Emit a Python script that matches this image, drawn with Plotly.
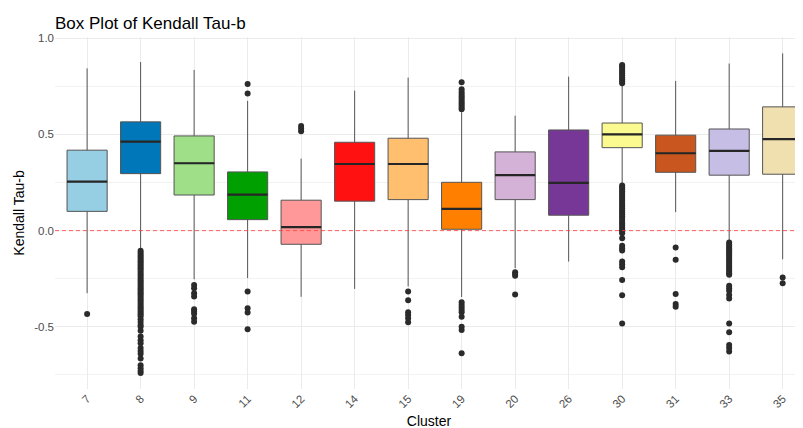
import plotly.graph_objects as go

clusters = ["7", "8", "9", "11", "12", "14", "15", "19", "20", "26", "30", "31", "33", "35"]
q1 =        [0.100, 0.296, 0.185, 0.057, -0.071, 0.153, 0.161, 0.007, 0.161, 0.080, 0.431, 0.303, 0.288, 0.293]
median =    [0.255, 0.462, 0.350, 0.187, 0.018, 0.346, 0.346, 0.113, 0.288, 0.248, 0.500, 0.402, 0.414, 0.475]
q3 =        [0.418, 0.565, 0.492, 0.305, 0.158, 0.459, 0.480, 0.251, 0.409, 0.523, 0.559, 0.496, 0.528, 0.643]
lower =     [-0.325, -0.100, -0.253, -0.247, -0.344, -0.303, -0.290, -0.345, -0.195, -0.161, 0.237, 0.096, -0.052, -0.149]
upper =     [0.843, 0.876, 0.835, 0.674, 0.374, 0.727, 0.795, 0.615, 0.597, 0.800, 0.757, 0.778, 0.868, 0.921]
colors = ["#96CEE4", "#0077B8", "#9EDF88", "#00A000", "#FF9999", "#FF1111", "#FFBF6F",
          "#FF8000", "#D4B1D6", "#773796", "#FAFA90", "#C8561E", "#C7BEE6", "#F0E0B0"]

outliers = {
    "7": [-0.433],
    "8": [-0.105, -0.115, -0.125, -0.135, -0.145, -0.155, -0.165, -0.175, -0.185, -0.195,
          -0.205, -0.215, -0.225, -0.235, -0.245, -0.255, -0.265, -0.275, -0.285, -0.295,
          -0.305, -0.315, -0.325, -0.335, -0.345, -0.355, -0.365, -0.375, -0.385, -0.395,
          -0.405, -0.415, -0.425, -0.435, -0.445, -0.46, -0.475, -0.49, -0.50, -0.52,
          -0.55, -0.57, -0.585, -0.61, -0.625, -0.64, -0.665, -0.70, -0.715, -0.73, -0.74],
    "9": [-0.282, -0.299, -0.325, -0.343, -0.408, -0.42, -0.432, -0.455, -0.473],
    "11": [0.712, 0.762, -0.317, -0.403, -0.426, -0.512],
    "12": [0.516, 0.53, 0.544],
    "15": [-0.317, -0.362, -0.424, -0.438, -0.455, -0.476],
    "19": [0.63, 0.64, 0.65, 0.66, 0.67, 0.68, 0.69, 0.70, 0.71, 0.72, 0.735, 0.771,
           -0.372, -0.386, -0.40, -0.412, -0.424, -0.447, -0.499, -0.516, -0.637],
    "20": [-0.216, -0.225, -0.234, -0.332],
    "30": [0.766, 0.776, 0.786, 0.796, 0.806, 0.816, 0.826, 0.836, 0.846, 0.855, 0.861,
           0.235, 0.225, 0.215, 0.205, 0.195, 0.185, 0.175, 0.165, 0.155, 0.145, 0.135,
           0.125, 0.115, 0.105, 0.095, 0.085, 0.075, 0.065, 0.055, 0.045, 0.035, 0.025,
           0.015, 0.005, -0.005, -0.014, -0.04, -0.079, -0.092, -0.104, -0.161, -0.175,
           -0.19, -0.256, -0.336, -0.483],
    "31": [-0.088, -0.152, -0.329, -0.381, -0.395],
    "33": [-0.062, -0.072, -0.082, -0.092, -0.102, -0.112, -0.122, -0.132, -0.142, -0.152,
           -0.162, -0.172, -0.182, -0.192, -0.202, -0.212, -0.222, -0.23, -0.287, -0.30,
           -0.312, -0.334, -0.353, -0.483, -0.528, -0.594, -0.61, -0.628],
    "35": [-0.244, -0.273],
}

y_ticks = [-0.5, 0.0, 0.5, 1.0]
y_tick_labels = ["-0.5", "0.0", "0.5", "1.0"]

fig = go.Figure()
for i, c in enumerate(clusters):
    fig.add_trace(go.Box(
        x=[c], q1=[q1[i]], median=[median[i]], q3=[q3[i]],
        lowerfence=[lower[i]], upperfence=[upper[i]],
        fillcolor=colors[i], line=dict(color="#555555", width=1),
        whiskerwidth=0, width=0.75, boxpoints=False, showlegend=False,
    ))
    # thicker dark median line
    fig.add_trace(go.Box(
        x=[c], q1=[median[i]], median=[median[i]], q3=[median[i]],
        lowerfence=[median[i]], upperfence=[median[i]],
        fillcolor="rgba(0,0,0,0)", line=dict(color="#262626", width=2.2),
        whiskerwidth=0, width=0.75, boxpoints=False, showlegend=False,
    ))

ox, oy = [], []
for c in clusters:
    for v in outliers.get(c, []):
        ox.append(c)
        oy.append(v)
fig.add_trace(go.Scatter(x=ox, y=oy, mode="markers",
                         marker=dict(color="#2b2b2b", size=6), showlegend=False))

fig.add_hline(y=0, line=dict(color="rgba(255,60,60,0.8)", width=1, dash="4px,3px"))

font = "Liberation Sans, Arial, sans-serif"
fig.update_layout(
    width=803, height=428,
    margin=dict(l=47, r=8, t=29, b=47),
    paper_bgcolor="white", plot_bgcolor="white",
    boxmode="overlay",
    font=dict(family=font),
    title=dict(text="Box Plot of Kendall Tau-b", x=47/803, xanchor="left",
               xref="container", y=1 - 15/428, yanchor="middle", yref="container",
               font=dict(size=17, color="black", family=font)),
)
fig.update_xaxes(
    type="category", categoryorder="array", categoryarray=clusters,
    range=[-0.6, 13.38], showgrid=True, gridcolor="#EBEBEB", gridwidth=1.2,
    zeroline=False, showline=False, ticks="", tickangle=-45,
    tickfont=dict(size=11.5, color="#4D4D4D"),
    title=dict(text="Cluster", font=dict(size=14, color="black"), standoff=6),
    automargin=False,
)
fig.update_yaxes(
    range=[-0.823, 1.006], tickvals=y_ticks, ticktext=y_tick_labels,
    showgrid=True, gridcolor="#EBEBEB", gridwidth=1.3, zeroline=False, showline=False,
    ticks="", tickfont=dict(size=11.5, color="#4D4D4D"),
    minor=dict(dtick=0.25, tick0=0.25, showgrid=True, gridcolor="#F2F2F2", gridwidth=0.8),
    title=dict(text="Kendall Tau-b", font=dict(size=14, color="black"), standoff=6),
    automargin=False,
)

fig.write_html("out.html")
